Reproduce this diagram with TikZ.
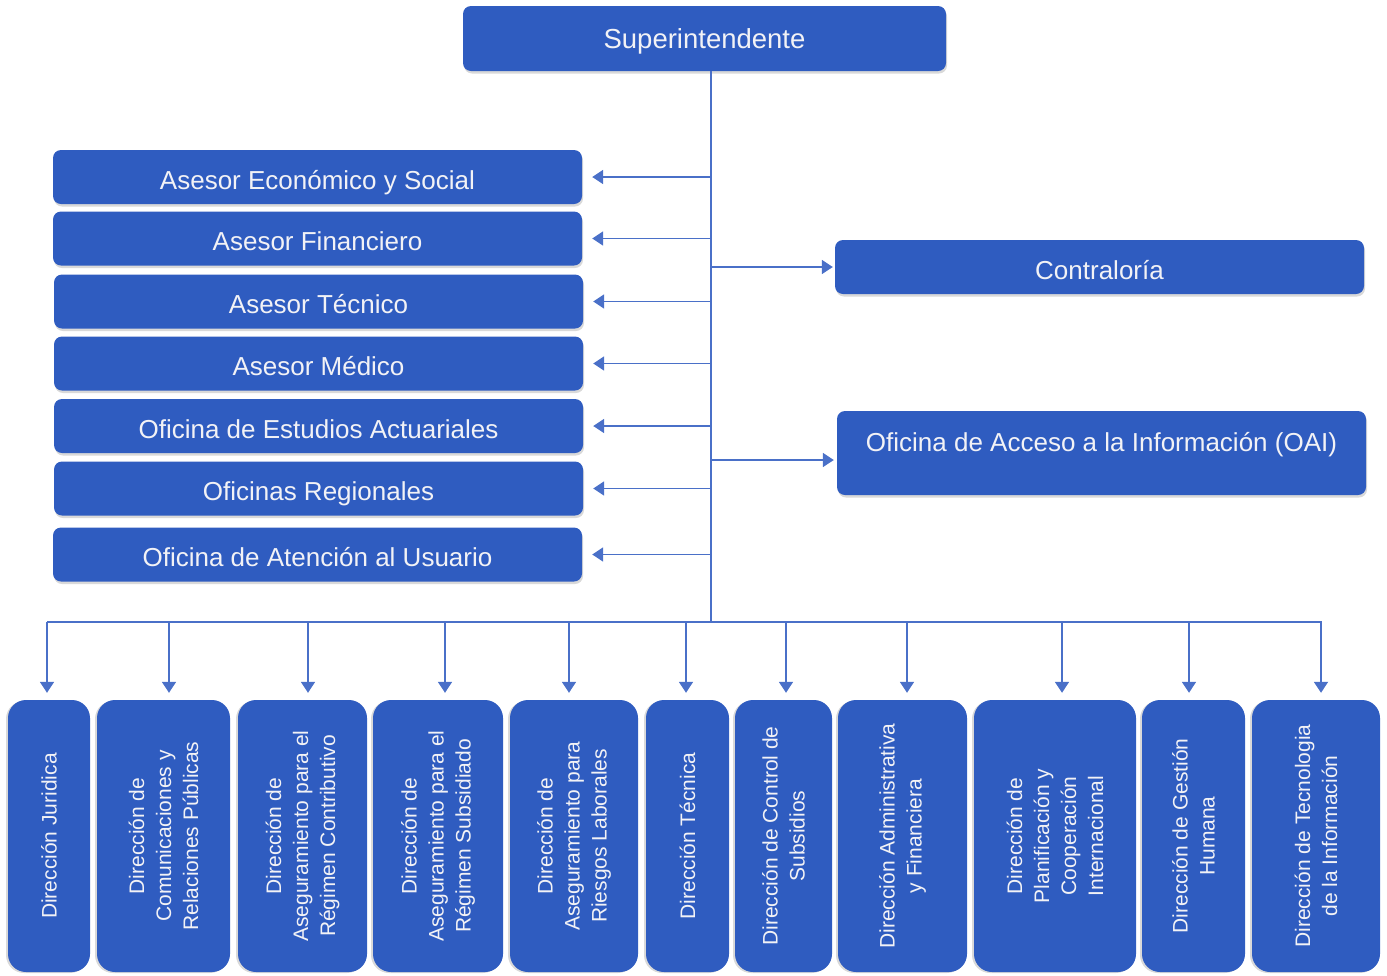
\documentclass[tikz,border=0pt]{standalone}
\usepackage{fontspec}
\setmainfont{Liberation Sans}
\usetikzlibrary{arrows.meta,shadows}
\definecolor{boxblue}{RGB}{47,92,192}
\definecolor{lineblue}{RGB}{74,112,200}
\definecolor{txt}{RGB}{242,242,246}
\begin{document}
\begin{tikzpicture}[x=1pt,y=-1pt,
  box/.style={fill=boxblue, rounded corners=8pt, inner sep=0pt, text=txt,
    font=\fontsize{26}{30}\selectfont, text height=29.5pt, text depth=5pt,
    drop shadow={shadow xshift=1pt, shadow yshift=-2.5pt, opacity=0.3}},
  hbox/.style={box, minimum width=529pt, minimum height=54pt},
  vbox/.style={fill=boxblue, rounded corners=18pt, inner sep=0pt, text=txt,
    rotate=90, minimum width=272pt, align=center,
    font=\fontsize{21}{27}\selectfont,
    drop shadow={shadow xshift=-2pt, shadow yshift=-1pt, opacity=0.3}},
  conn/.style={draw=lineblue, line width=1.8pt},
  arr/.style={conn, -{Triangle[width=14pt,length=11pt]}}]
\useasboundingbox (0,0) rectangle (1387,975);

% top
\node[box, minimum width=483pt, minimum height=65pt, font=\fontsize{27.5}{32}\selectfont, text height=25.5pt, text depth=6pt] (sup) at (704.5,38.5) {Superintendente};

% left boxes
\node[hbox] (L1) at (317.5,177) {Asesor Económico y Social};
\node[hbox] (L2) at (317.5,238.5) {Asesor Financiero};
\node[hbox] (L3) at (318.5,301.5) {Asesor Técnico};
\node[hbox] (L4) at (318.5,363.5) {Asesor Médico};
\node[hbox] (L5) at (318.5,426) {Oficina de Estudios Actuariales};
\node[hbox] (L6) at (318.5,488.5) {Oficinas Regionales};
\node[hbox] (L7) at (317.5,554.5) {Oficina de Atención al Usuario};

% right boxes
\node[hbox] (R1) at (1099.5,267) {Contraloría};
\node[hbox, minimum height=84pt, text height=19pt, text depth=22.5pt] (R2) at (1101.5,453) {Oficina de Acceso a la Información (OAI)};

% bottom boxes
\node[vbox, minimum height=82pt] (b1) at (49,836) {Dirección Juridica};
\node[vbox, minimum height=133pt] (b2) at (163.5,836) {Dirección de\\Comunicaciones y\\Relaciones Públicas};
\node[vbox, minimum height=129pt] (b3) at (302.5,836) {Dirección de\\Aseguramiento para el\\Régimen Contributivo};
\node[vbox, minimum height=130pt] (b4) at (438,836) {Dirección de\\Aseguramiento para el\\Régimen Subsidiado};
\node[vbox, minimum height=128pt] (b5) at (574,836) {Dirección de\\Aseguramiento para\\Riesgos Laborales};
\node[vbox, minimum height=83pt] (b6) at (687.5,836) {Dirección Técnica};
\node[vbox, minimum height=97pt] (b7) at (783.5,836) {Dirección de Control de\\Subsidios};
\node[vbox, minimum height=129pt] (b8) at (902.5,836) {Dirección Administrativa\\y Financiera};
\node[vbox, minimum height=162pt] (b9) at (1055,836) {Dirección de\\Planificación y\\Cooperación\\Internacional};
\node[vbox, minimum height=103pt] (b10) at (1193.5,836) {Dirección de Gestión\\Humana};
\node[vbox, minimum height=128pt] (b11) at (1316,836) {Dirección de Tecnologia\\de la Información};

% trunk
\coordinate (tTop) at (711,71);
\coordinate (tBot) at (711,622);
\draw[conn] (tTop) -- (tBot);

% left arrows
\foreach \i in {1,...,7}
  \draw[arr] (tTop |- L\i.east) -- ([xshift=10pt]L\i.east);

% right arrows
\draw[arr, shorten >=2pt] (tTop |- R1.west) -- (R1.west);
\coordinate (r2a) at (711,460);
\draw[arr, shorten >=3pt] (r2a) -- (r2a -| R2.west);

% bus
\coordinate (busL) at (47,622);
\coordinate (busR) at (1322,622);
\draw[conn] (busL) -- (busR);
\foreach \n/\x in {1/47,2/169,3/308,4/445,5/569,6/686,7/786,8/907,9/1062,10/1189,11/1321}{
  \coordinate (d\n) at (\x,622);
  \draw[arr, shorten >=7pt] (d\n) -- (d\n |- b\n.east);
}
\end{tikzpicture}
\end{document}
